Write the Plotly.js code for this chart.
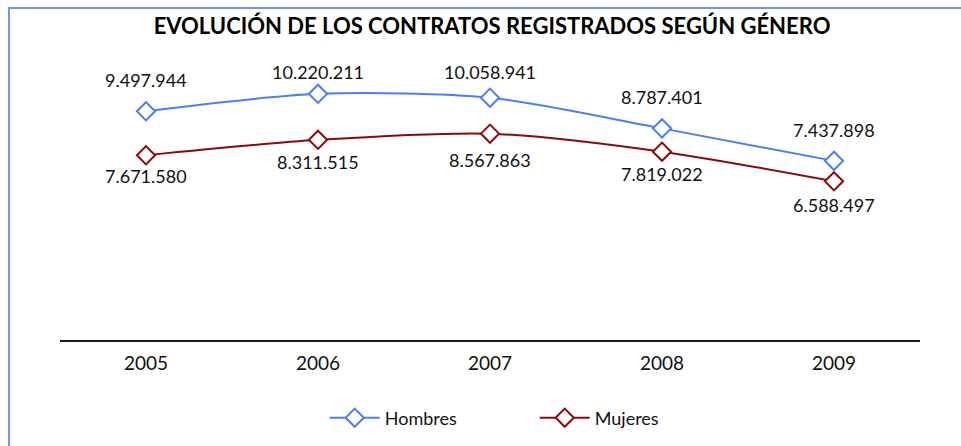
<!DOCTYPE html>
<html>
<head>
<meta charset="utf-8">
<script src="https://cdn.plot.ly/plotly-3.0.1.min.js"></script>
<style>
html,body{margin:0;padding:0;background:#fff;}
#frame{position:absolute;left:8px;top:7px;width:960px;height:446px;border-left:2px solid #6f95ea;border-top:2px solid #6f95ea;box-sizing:border-box;}
#chart{position:absolute;left:0;top:0;width:961px;height:446px;}
</style>
</head>
<body>
<div id="frame"></div>
<div id="chart"></div>
<script>
const years = ['2005','2006','2007','2008','2009'];
const hombres = [9497944, 10220211, 10058941, 8787401, 7437898];
const mujeres = [7671580, 8311515, 8567863, 7819022, 6588497];
const hombresLabels = ['9.497.944','10.220.211','10.058.941','8.787.401','7.437.898'];
const mujeresLabels = ['7.671.580','8.311.515','8.567.863','7.819.022','6.588.497'];

const FONT = 'Lato, "Open Sans", sans-serif';
const blue = '#4a7ef4';
const red = '#8b0a0a';

const hShift = [31, 22, 26, 31, 31];
const mShift = [-21, -22, -26, -22, -24];

const annotations = [];
years.forEach((y, i) => {
  annotations.push({x: i, y: hombres[i], xref: 'x', yref: 'y', text: hombresLabels[i], showarrow: false,
    yshift: hShift[i], font: {family: FONT, size: 18, color: '#111'}});
  annotations.push({x: i, y: mujeres[i], xref: 'x', yref: 'y', text: mujeresLabels[i], showarrow: false,
    yshift: mShift[i], font: {family: FONT, size: 18, color: '#111'}});
});

const traces = [
  {x: years, y: hombres, name: 'Hombres', type: 'scatter', mode: 'lines+markers',
   line: {color: blue, width: 2, shape: 'spline', smoothing: 0.8},
   marker: {symbol: 'diamond', size: 14, color: '#fff', line: {color: blue, width: 2}},
   hoverinfo: 'none'},
  {x: years, y: mujeres, name: 'Mujeres', type: 'scatter', mode: 'lines+markers',
   line: {color: red, width: 2, shape: 'spline', smoothing: 0.8},
   marker: {symbol: 'diamond', size: 14, color: '#fff', line: {color: red, width: 2}},
   hoverinfo: 'none'}
];

const layout = {
  width: 961, height: 446,
  margin: {l: 60, r: 41, t: 51, b: 106, autoexpand: false},
  paper_bgcolor: 'rgba(0,0,0,0)', plot_bgcolor: 'rgba(0,0,0,0)',
  font: {family: FONT, size: 18, color: '#111'},
  title: {text: '<b>EVOLUCIÓN DE LOS CONTRATOS REGISTRADOS SEGÚN GÉNERO</b>',
    x: 0.512, xanchor: 'center', y: 0.94, yanchor: 'middle', yref: 'container',
    font: {family: FONT, size: 22, color: '#000'}},
  xaxis: {type: 'category', range: [-0.5, 4.5], showgrid: false, zeroline: false,
    showline: true, linecolor: '#1a1a1a', linewidth: 2, ticks: '', ticklabelstandoff: 5,
    tickfont: {family: FONT, size: 19, color: '#111'}, fixedrange: true},
  yaxis: {range: [0, 12000000], visible: false, showgrid: false, zeroline: false, fixedrange: true},
  showlegend: true,
  legend: {orientation: 'h', x: 0.552, xanchor: 'center', y: -0.27, yanchor: 'middle',
    font: {family: FONT, size: 18, color: '#111'}, entrywidth: 145, itemwidth: 50},
  annotations: annotations
};

Plotly.newPlot('chart', traces, layout, {displayModeBar: false, staticPlot: true});
</script>
</body>
</html>
